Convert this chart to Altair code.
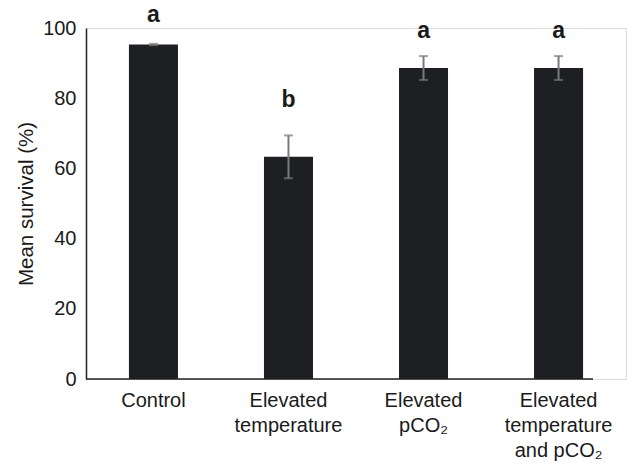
import altair as alt
import pandas as pd

categories = ["Control", "Elevated|temperature", "Elevated|pCO₂", "Elevated|temperature|and pCO₂"]
means = [95.3, 63.3, 88.6, 88.6]
errors = [0.2, 6.1, 3.4, 3.4]
letters = ["a", "b", "a", "a"]
letter_pos = [101.7, 77.6, 97.1, 97.1]

df = pd.DataFrame({
    "cat": categories,
    "mean": means,
    "lo": [m - e for m, e in zip(means, errors)],
    "hi": [m + e for m, e in zip(means, errors)],
    "letter": letters,
    "lpos": letter_pos,
})

FONT = "Liberation Sans"
W, H = 540, 351

xenc = alt.X(
    "cat:N",
    sort=categories,
    scale=alt.Scale(paddingInner=0.637, paddingOuter=0.318),
    axis=alt.Axis(
        title=None, labelAngle=0, domain=False, ticks=False,
        labelExpr="split(datum.label, '|')",
        labelFont=FONT, labelFontSize=20, labelColor="#1a1a1a",
        labelPadding=11, labelLineHeight=25, labelBaseline="top",
    ),
)
yscale = alt.Scale(domain=[0, 100], nice=False)

base = alt.Chart(df)

bars = base.mark_bar(color="#1e1f22").encode(
    x=xenc,
    y=alt.Y(
        "mean:Q", scale=yscale,
        axis=alt.Axis(
            title="Mean survival (%)", values=[0, 20, 40, 60, 80, 100],
            grid=False, ticks=False, domainColor="#222222", domainWidth=1.5,
            labelFont=FONT, labelFontSize=20, labelColor="#1a1a1a", labelPadding=10,
            titleFont=FONT, titleFontSize=20.5, titleFontWeight="normal", titleColor="#1a1a1a",
            titleX=-60, titleY=H / 2, titleAngle=-90, titleAlign="center", titleBaseline="middle",
        ),
    ),
)

err = base.mark_rule(color="#7a7a7a", strokeWidth=2).encode(
    x=alt.X("cat:N", sort=categories),
    y=alt.Y("lo:Q", scale=yscale),
    y2="hi:Q",
)
cap_lo = base.mark_tick(color="#7a7a7a", thickness=2, size=9).encode(
    x=alt.X("cat:N", sort=categories), y=alt.Y("lo:Q", scale=yscale)
)
cap_hi = base.mark_tick(color="#7a7a7a", thickness=2, size=9).encode(
    x=alt.X("cat:N", sort=categories), y=alt.Y("hi:Q", scale=yscale)
)

text = base.mark_text(
    font=FONT, fontSize=23, fontWeight="bold", color="#1a1a1a", baseline="alphabetic"
).encode(
    x=alt.X("cat:N", sort=categories),
    y=alt.Y("lpos:Q", scale=yscale),
    text="letter:N",
)

xline = alt.Chart(pd.DataFrame({"z": [0]})).mark_rule(color="#222222", strokeWidth=1.5).encode(
    x=alt.value(0), x2=alt.value(507), y=alt.Y("z:Q", scale=yscale)
)

chart = alt.layer(bars, err, cap_lo, cap_hi, text, xline).properties(
    width=W, height=H,
    autosize=alt.AutoSizeParams(type="none"),
    padding={"left": 86, "top": 28, "right": 5, "bottom": 85},
).configure_view(stroke=None).configure(background="white")

chart.save("out.html", embed_options={"renderer": "svg", "actions": False})
